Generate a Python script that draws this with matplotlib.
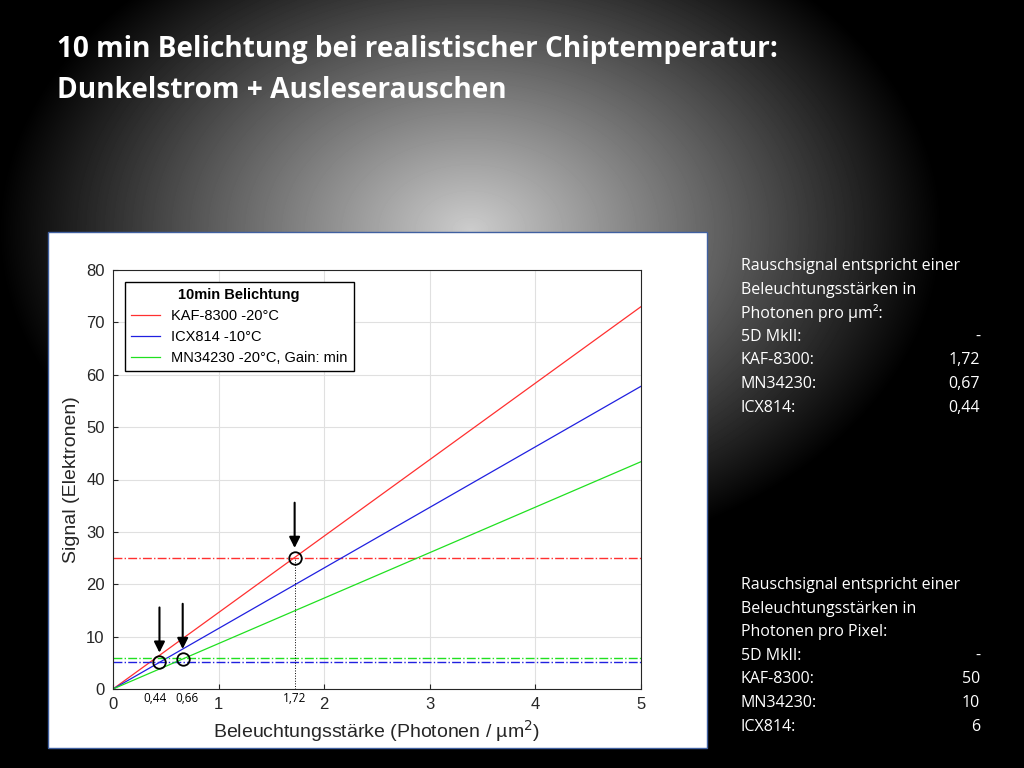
import numpy as np
import matplotlib.pyplot as plt
from matplotlib.patches import Rectangle

# Steigungen (Elektronen pro Photon/um^2)
series_names = ['KAF-8300 -20°C', 'ICX814 -10°C', 'MN34230 -20°C, Gain: min']
series_colors = ['#ff3030', '#2020e0', '#20e020']
slopes = [14.6, 11.56, 8.68]
noise_levels = [25.1, 5.2, 6.0]
x_max = 5

marker_x = [0.44, 0.66, 1.72]
marker_y = [5.1, 5.8, 25.1]
marker_labels = ['0,44', '0,66', '1,72']
label_shift = [-3, 3, 0]

right_top = [('Rauschsignal entspricht einer', ''), ('Beleuchtungsstärken in', ''),
             ('Photonen pro µm²:', ''), ('5D MkII:', '-'), ('KAF-8300:', '1,72'),
             ('MN34230:', '0,67'), ('ICX814:', '0,44')]
right_bottom = [('Rauschsignal entspricht einer', ''), ('Beleuchtungsstärken in', ''),
                ('Photonen pro Pixel:', ''), ('5D MkII:', '-'), ('KAF-8300:', '50'),
                ('MN34230:', '10'), ('ICX814:', '6')]

plt.rcParams['font.family'] = ['Liberation Sans', 'DejaVu Sans']
fig = plt.figure(figsize=(10.24, 7.68), dpi=100)

# Hintergrund: radialer Verlauf
bg = fig.add_axes([0, 0, 1, 1])
yy, xx = np.mgrid[0:768, 0:1024]
r = np.sqrt(((xx - 470) / 560.0) ** 2 + ((yy - 230) / 400.0) ** 2)
img = np.clip(0.80 - 0.95 * r, 0, 1)
bg.imshow(img, cmap='gray', vmin=0, vmax=1, extent=[0, 1024, 768, 0], aspect='auto')
bg.set_xlim(0, 1024)
bg.set_ylim(768, 0)
bg.axis('off')
bg.add_patch(Rectangle((48, 232), 659, 516, facecolor='white', edgecolor='#4060a0', lw=1))

for i, t in enumerate(['10 min Belichtung bei realistischer Chiptemperatur:',
                       'Dunkelstrom + Ausleserauschen']):
    bg.text(57, 50 + i * 40, t, color='white', fontsize=20.2, fontweight='bold',
            va='center', family='Open Sans')

for block, y0 in [(right_top, 266), (right_bottom, 585)]:
    for i, (a, b) in enumerate(block):
        y = y0 + i * 23.6
        bg.text(741, y, a, color='white', fontsize=11.5, va='center', family='Open Sans')
        if b:
            bg.text(980, y, b, color='white', fontsize=11.5, va='center', ha='right',
                    family='Open Sans')

ax = fig.add_axes([113 / 1024, 1 - 689 / 768, 528 / 1024, 419 / 768])
x = np.array([0, x_max])
lines = []
for name, c, s, n in zip(series_names, series_colors, slopes, noise_levels):
    l, = ax.plot(x, s * x, color=c, lw=0.9, label=name)
    lines.append(l)
    ax.axhline(n, color=c, lw=1, ls='-.')
ax.plot(marker_x, marker_y, 'o', mfc='none', mec='black', ms=9, mew=1.3)
ax.plot([marker_x[2], marker_x[2]], [0, marker_y[2]], color='black', lw=0.7, ls=':')
for mx, my, lab, dx in zip(marker_x, marker_y, marker_labels, label_shift):
    ax.annotate('', xy=(mx, my + 1.3), xytext=(mx, my + 11),
                arrowprops=dict(arrowstyle='-|>', color='black', lw=1.5, mutation_scale=16))
    ax.annotate(lab, xy=(mx, 0), xytext=(dx, -2), textcoords='offset points',
                ha='center', va='top', fontsize=8.5, family='Open Sans')
ax.set_xlim(0, 5)
ax.set_ylim(0, 80)
ax.set_xticks(range(6))
ax.set_yticks(range(0, 81, 10))
ax.tick_params(labelsize=12, colors='#262626', direction='in', pad=6)
ax.grid(True, color='#e0e0e0', lw=0.8)
ax.set_axisbelow(True)
ax.set_xlabel('Beleuchtungsstärke (Photonen / µm$^2$)', fontsize=14, color='#262626')
ax.set_ylabel('Signal (Elektronen)', fontsize=14, color='#262626')
for sp in ax.spines.values():
    sp.set_color('#262626')
leg = ax.legend(handles=lines, loc='upper left', title='10min Belichtung', fontsize=10.5,
                fancybox=False, edgecolor='black', framealpha=1, borderaxespad=0.8)
leg.get_title().set_fontweight('bold')
leg.get_title().set_fontsize(10.5)
fig.savefig('out.png', dpi=100)
